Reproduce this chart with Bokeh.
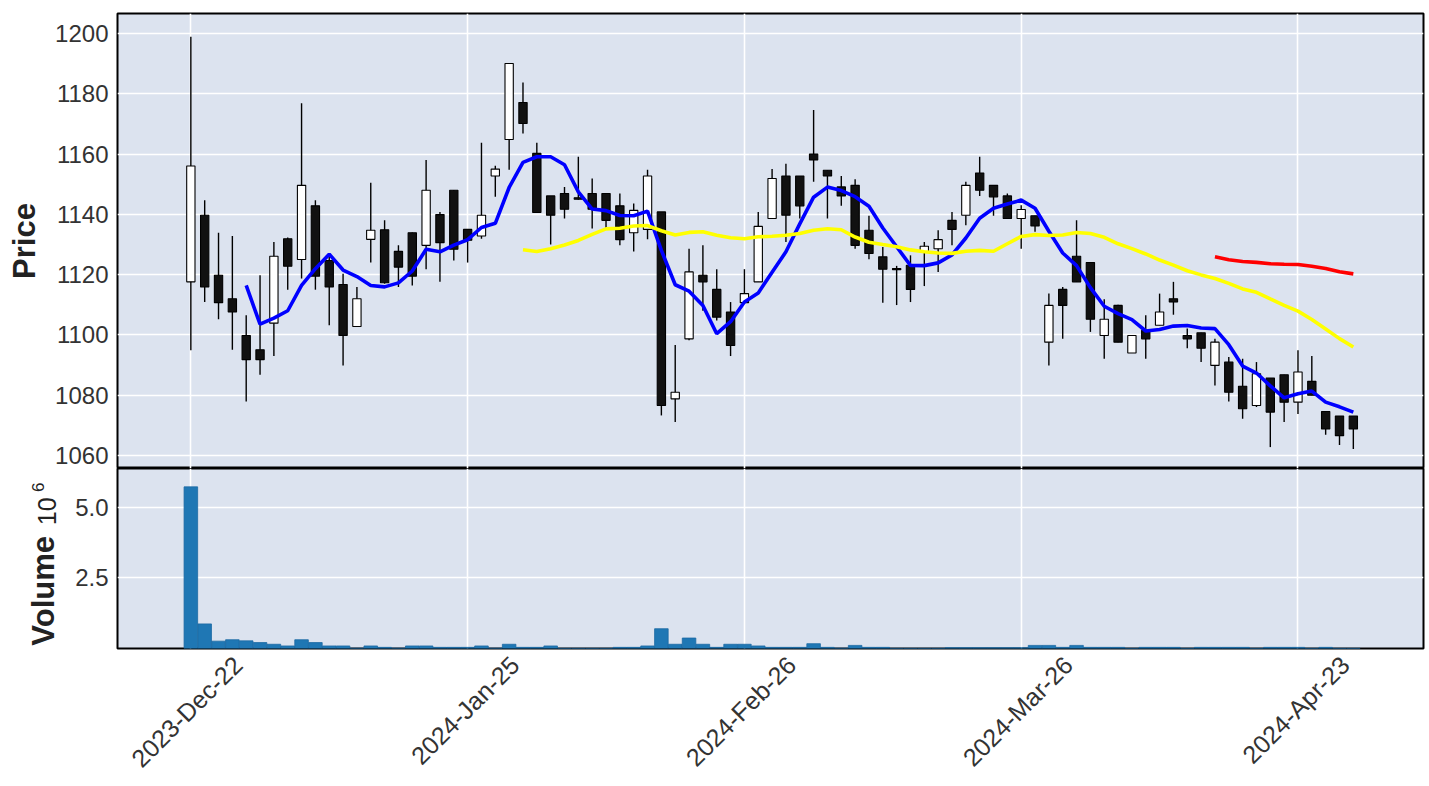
import math
import pandas as pd
from bokeh.plotting import figure
from bokeh.layouts import column, row
from bokeh.models import ColumnDataSource, FixedTicker, Range1d, NumeralTickFormatter
from bokeh.core.properties import value
from bokeh.embed import file_html
from bokeh.resources import INLINE

# ---------------- data ----------------
opens = [1117.6, 1139.7, 1119.8, 1112.0, 1099.8, 1095.1, 1103.9, 1131.9, 1125.0, 1142.8,
         1124.7, 1116.7, 1102.8, 1131.7, 1134.9, 1127.7, 1133.9, 1129.7, 1139.9, 1148.0,
         1135.0, 1132.8, 1152.7, 1164.8, 1177.1, 1160.2, 1146.1, 1146.9, 1145.5, 1146.9,
         1146.9, 1142.8, 1133.9, 1135.0, 1140.8, 1078.8, 1098.7, 1119.8, 1115.1, 1107.6,
         1110.7, 1117.6, 1138.6, 1152.7, 1152.7, 1160.0, 1154.6, 1149.1, 1149.6, 1134.7,
         1125.9, 1122.0, 1123.1, 1127.5, 1128.6, 1138.0, 1139.7, 1153.7, 1149.6, 1146.1,
         1138.6, 1139.5, 1097.6, 1115.1, 1126.1, 1124.0, 1099.8, 1109.8, 1094.0, 1101.5,
         1103.2, 1112.0, 1099.8, 1100.7, 1089.9, 1091.0, 1083.0, 1076.6, 1085.7, 1086.8,
         1077.7, 1084.6, 1074.6, 1073.1, 1073.1]
highs = [1198.9, 1144.7, 1133.9, 1132.8, 1106.5, 1119.8, 1130.8, 1132.3, 1176.8, 1144.7,
         1127.0, 1120.3, 1115.9, 1150.5, 1138.0, 1129.7, 1134.0, 1158.0, 1140.8, 1148.0,
         1135.0, 1163.7, 1156.1, 1190.0, 1183.7, 1163.7, 1146.1, 1149.1, 1159.1, 1151.9,
         1146.9, 1146.9, 1143.6, 1154.8, 1140.8, 1096.7, 1128.6, 1129.7, 1121.8, 1110.9,
         1121.8, 1140.8, 1155.0, 1156.8, 1152.7, 1174.6, 1154.6, 1152.7, 1151.6, 1139.5,
         1129.2, 1122.9, 1126.4, 1130.8, 1134.7, 1140.8, 1150.8, 1159.1, 1149.6, 1146.9,
         1143.0, 1139.5, 1113.7, 1115.9, 1138.0, 1124.0, 1111.8, 1110.0, 1099.8, 1106.5,
         1113.7, 1117.6, 1102.1, 1100.7, 1098.7, 1092.7, 1092.1, 1091.0, 1085.7, 1086.8,
         1094.9, 1093.0, 1074.6, 1073.1, 1073.1]
lows = [1094.9, 1110.9, 1105.2, 1095.1, 1077.9, 1086.8, 1093.0, 1115.0, 1118.7, 1115.0,
        1103.2, 1089.9, 1102.8, 1124.0, 1117.0, 1115.9, 1116.4, 1121.8, 1117.6, 1124.7,
        1124.0, 1131.9, 1145.8, 1154.8, 1166.8, 1140.6, 1130.0, 1138.6, 1144.8, 1135.3,
        1135.3, 1129.7, 1127.7, 1131.7, 1073.3, 1071.1, 1098.2, 1108.0, 1104.8, 1093.0,
        1110.7, 1117.6, 1138.6, 1130.8, 1138.6, 1150.8, 1138.6, 1142.8, 1128.6, 1125.1,
        1110.7, 1109.9, 1110.9, 1116.2, 1120.9, 1129.7, 1136.4, 1146.1, 1139.5, 1138.6,
        1128.6, 1134.2, 1089.9, 1098.7, 1117.6, 1101.0, 1092.1, 1097.6, 1094.0, 1092.1,
        1103.2, 1106.7, 1095.6, 1091.0, 1083.2, 1077.9, 1072.2, 1076.1, 1062.8, 1071.1,
        1073.8, 1080.0, 1066.9, 1063.5, 1062.2]
closes = [1156.0, 1115.9, 1110.7, 1107.6, 1091.8, 1091.8, 1126.1, 1122.8, 1149.6, 1119.5,
          1115.9, 1099.8, 1112.0, 1134.7, 1117.3, 1122.5, 1119.5, 1148.0, 1130.6, 1128.4,
          1131.4, 1139.7, 1155.0, 1190.0, 1170.1, 1140.6, 1139.7, 1141.7, 1145.0, 1141.7,
          1138.0, 1131.6, 1141.3, 1152.7, 1076.6, 1081.0, 1120.9, 1117.6, 1105.9, 1096.5,
          1113.7, 1136.0, 1151.9, 1139.7, 1142.8, 1158.0, 1152.7, 1146.1, 1129.7, 1127.0,
          1121.8, 1121.6, 1115.1, 1129.4, 1131.6, 1135.0, 1149.6, 1148.0, 1145.8, 1138.6,
          1141.6, 1136.1, 1109.8, 1109.8, 1117.6, 1105.2, 1105.2, 1097.6, 1099.8, 1098.7,
          1107.6, 1110.9, 1098.7, 1095.6, 1097.6, 1081.0, 1075.5, 1087.1, 1074.4, 1077.7,
          1087.7, 1080.0, 1068.8, 1066.6, 1068.8]
volume_millions = [5.72, 0.87, 0.26, 0.31, 0.27, 0.21, 0.15, 0.09, 0.31, 0.21,
                   0.09, 0.09, 0.01, 0.09, 0.04, 0.01, 0.09, 0.09, 0.04, 0.04,
                   0.04, 0.09, 0.01, 0.15, 0.04, 0.04, 0.09, 0.005, 0.005, 0.005,
                   0.005, 0.04, 0.04, 0.09, 0.70, 0.15, 0.37, 0.15, 0.04, 0.15,
                   0.15, 0.09, 0.04, 0.04, 0.04, 0.17, 0.04, 0.01, 0.11, 0.04,
                   0.04, 0.005, 0.005, 0.005, 0.005, 0.03, 0.03, 0.03, 0.03, 0.03,
                   0.03, 0.11, 0.11, 0.04, 0.11, 0.04, 0.04, 0.04, 0.005, 0.04,
                   0.04, 0.04, 0.005, 0.04, 0.04, 0.04, 0.04, 0.005, 0.04, 0.04,
                   0.04, 0.005, 0.04, 0.005, 0.005]
tick_positions = [0, 20, 40, 60, 80]
tick_labels = ["2023-Dec-22", "2024-Jan-25", "2024-Feb-26", "2024-Mar-26", "2024-Apr-23"]
price_ticks = [1060, 1080, 1100, 1120, 1140, 1160, 1180, 1200]
volume_ticks = [2.5, 5.0]
mav_periods = [5, 25, 75]
mav_colors = ["#0000ff", "#ffff00", "#ff0000"]
price_label = "Price"
volume_label = "Volume"
volume_exponent = ("10", "6")

# ---------------- styling ----------------
BG = "#DCE3EF"
FONT = "Liberation Sans"
TICK_FS = "24px"
XTICK_FS = "25px"
LABEL_FS = "31px"
TEXT_COLOR = "#333333"
LABEL_COLOR = "#222222"
TOTAL_W = 1426
LEFT = 117
LAB_W = 60
XR = Range1d(-5.3, 89.07)
VOL_TOP = 6.37

idx = list(range(len(closes)))
up = [c >= o for o, c in zip(opens, closes)]
src = ColumnDataSource(dict(
    x=idx, open=opens, high=highs, low=lows, close=closes,
    top=[max(o, c) for o, c in zip(opens, closes)],
    bottom=[min(o, c) for o, c in zip(opens, closes)],
    fill=["white" if u else "#111111" for u in up],
    vol=volume_millions,
))


def style(p):
    p.background_fill_color = BG
    p.border_fill_color = "white"
    p.outline_line_color = "black"
    p.outline_line_width = 2
    p.grid.grid_line_color = "white"
    p.grid.grid_line_width = 1.6
    for ax in p.axis:
        ax.axis_line_color = None
        ax.major_tick_line_color = None
        ax.minor_tick_line_color = None
        ax.major_tick_out = 0
        ax.major_tick_in = 0
        ax.minor_tick_out = 0
        ax.major_label_text_font = FONT
        ax.major_label_text_font_size = TICK_FS
        ax.major_label_text_color = TEXT_COLOR
        ax.axis_label_text_font = FONT
        ax.axis_label_text_font_size = LABEL_FS
        ax.axis_label_text_font_style = "bold"
        ax.axis_label_text_color = LABEL_COLOR


# ---------------- price panel ----------------
p1 = figure(width=TOTAL_W, height=468, x_range=XR, y_range=Range1d(1055.7, 1206.6),
            output_backend="svg", toolbar_location=None,
            min_border_left=LEFT, min_border_right=3, min_border_top=13, min_border_bottom=0)
style(p1)
p1.xaxis.visible = False
p1.xgrid.ticker = FixedTicker(ticks=tick_positions)
p1.yaxis.ticker = FixedTicker(ticks=price_ticks)
p1.ygrid.ticker = FixedTicker(ticks=price_ticks)
p1.yaxis.axis_label = price_label
p1.yaxis.major_label_standoff = 9
p1.yaxis.axis_label_standoff = 10

p1.segment(x0="x", y0="low", x1="x", y1="high", source=src, line_color="black", line_width=1.4)
p1.vbar(x="x", width=0.6, top="top", bottom="bottom", source=src,
        fill_color="fill", line_color="black", line_width=1.1)

s = pd.Series(closes)
for n, col in zip(mav_periods, mav_colors):
    ma = s.rolling(n).mean()
    p1.line(idx[n - 1:], list(ma[n - 1:]), line_color=col, line_width=3.6)

# ---------------- volume panel ----------------
V_H = 317
VR = Range1d(0, VOL_TOP)
p2 = figure(width=TOTAL_W - LAB_W, height=V_H, x_range=XR, y_range=VR,
            output_backend="svg", toolbar_location=None,
            min_border_left=LEFT - LAB_W, min_border_right=3, min_border_top=0,
            min_border_bottom=136)
style(p2)
p2.vbar(x="x", width=0.98, top="vol", bottom=0, source=src,
        fill_color="#1f77b4", line_color="#1c6aa3", line_width=0.8)
p2.yaxis.ticker = FixedTicker(ticks=volume_ticks)
p2.ygrid.ticker = FixedTicker(ticks=volume_ticks)
p2.yaxis.formatter = NumeralTickFormatter(format="0.0")
p2.yaxis.major_label_standoff = 9
p2.xgrid.ticker = FixedTicker(ticks=tick_positions)

label_shift = 3.4  # matplotlib centres the rotated label's box on the tick
p2.xaxis.ticker = FixedTicker(ticks=[t + label_shift for t in tick_positions])
p2.xaxis.major_label_overrides = {t + label_shift: lab for t, lab in zip(tick_positions, tick_labels)}
p2.xaxis.major_label_orientation = math.pi / 4
p2.xaxis.major_label_standoff = 12
p2.xaxis.major_label_text_font_size = XTICK_FS

# narrow strip left of the volume panel holding its rotated y label;
# its frame is aligned with the volume frame, so it shares the volume y range
lab = figure(width=LAB_W, height=V_H, x_range=Range1d(0, LAB_W), y_range=VR,
             output_backend="svg", toolbar_location=None,
             min_border_left=0, min_border_right=0, min_border_top=0, min_border_bottom=136,
             x_axis_type=None, y_axis_type=None)
lab.outline_line_color = None
lab.grid.visible = False
lab.background_fill_color = "white"
lab.border_fill_color = "white"
FRAME_TOP, FRAME_BOTTOM = 468, 649  # page y of the volume frame


def vy(page_y):
    return (FRAME_BOTTOM - page_y) * VOL_TOP / (FRAME_BOTTOM - FRAME_TOP)


lab.text(x=[43], y=[vy(591)], text=[volume_label], angle=math.pi / 2,
         text_font=value(FONT), text_font_size=LABEL_FS, text_font_style="bold",
         text_color=LABEL_COLOR, text_align="center", text_baseline="middle")
lab.text(x=[46], y=[vy(511)], text=[volume_exponent[0]], angle=math.pi / 2,
         text_font=value(FONT), text_font_size="25px",
         text_color=LABEL_COLOR, text_align="center", text_baseline="middle")
lab.text(x=[37], y=[vy(487)], text=[volume_exponent[1]], angle=math.pi / 2,
         text_font=value(FONT), text_font_size="17px",
         text_color=LABEL_COLOR, text_align="center", text_baseline="middle")

layout = column(p1, row(lab, p2, spacing=0), spacing=0)
open("out.html", "w").write(file_html(layout, INLINE))
